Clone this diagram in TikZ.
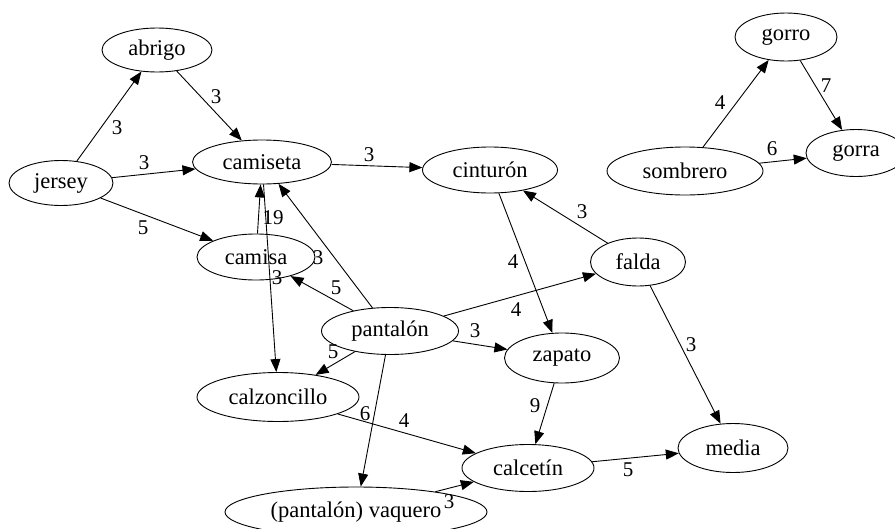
\documentclass[tikz,border=0pt]{standalone}
\usepackage{fontspec}
\setmainfont{Liberation Serif}
\usetikzlibrary{arrows.meta,shapes.geometric}
\begin{document}
\begin{tikzpicture}[x=1pt,y=-1pt,
  nd/.style={draw,ellipse,inner sep=0pt,line width=0.9pt,font=\fontsize{22.5}{22.5}\selectfont},
  ar/.style={-{Triangle[length=13pt,width=10pt]},line width=0.9pt},
  lb/.style={font=\fontsize{21}{21}\selectfont,inner sep=0pt}]
\useasboundingbox (0,0) rectangle (895,528);
\node[nd,minimum width=110,minimum height=44] (abrigo) at (157,50) {abrigo};
\node[nd,minimum width=104,minimum height=45] (jersey) at (61,183) {jersey};
\node[nd,minimum width=139,minimum height=44] (camiseta) at (262,162) {camiseta};
\node[nd,minimum width=118,minimum height=46] (camisa) at (256,257) {camisa};
\node[nd,minimum width=135,minimum height=46] (cinturon) at (490,170) {cinturón};
\node[nd,minimum width=102,minimum height=48] (gorro) at (786,37) {gorro};
\node[nd,minimum width=156,minimum height=48] (sombrero) at (685,171) {sombrero};
\node[nd,minimum width=100,minimum height=47] (gorra) at (856,153) {gorra};
\node[nd,minimum width=95,minimum height=48] (falda) at (638,262) {falda};
\node[nd,minimum width=137,minimum height=47] (pantalon) at (390,331) {pantalón};
\node[nd,minimum width=115,minimum height=50] (zapato) at (562,358) {zapato};
\node[nd,minimum width=162,minimum height=49] (calzoncillo) at (278,397) {calzoncillo};
\node[nd,minimum width=132,minimum height=47] (calcetin) at (528,468) {calcetín};
\node[nd,minimum width=110,minimum height=49] (media) at (733,448) {media};
\node[nd,minimum width=262,minimum height=50] (vaquero) at (356,512) {(pantalón) vaquero};

\draw[ar] (jersey) -- (abrigo);
\draw[ar] (abrigo) -- (camiseta);
\draw[ar] (jersey) -- (camiseta);
\draw[ar] (jersey) -- (camisa);
\draw[ar] (camiseta) -- (cinturon);
\draw[ar] (camisa) -- (camiseta);
\draw[ar] (camiseta) -- (calzoncillo);
\draw[ar] (pantalon) -- (camiseta);
\draw[ar] (pantalon) -- (camisa);
\draw[ar] (pantalon) -- (calzoncillo);
\draw[ar] (pantalon) -- (vaquero);
\draw[ar] (pantalon) -- (falda);
\draw[ar] (pantalon) -- (zapato);
\draw[ar] (cinturon) -- (zapato);
\draw[ar] (falda) -- (cinturon);
\draw[ar] (falda) -- (media);
\draw[ar] (zapato) -- (calcetin);
\draw[ar] (calzoncillo) -- (calcetin);
\draw[ar] (vaquero) -- (calcetin);
\draw[ar] (calcetin) -- (media);
\draw[ar] (sombrero) -- (gorro);
\draw[ar] (sombrero) -- (gorra);
\draw[ar] (gorro) -- (gorra);

\node[lb] (l1) at (117,128) {3};
\node[lb] (l2) at (216,97) {3};
\node[lb] (l3) at (144,163) {3};
\node[lb] (l4) at (143,228) {5};
\node[lb] (l5) at (369,155) {3};
\node[lb] (l6) at (273,218) {19};
\node[lb] (l7) at (277,278) {3};
\node[lb] (l8) at (318,258) {3};
\node[lb] (l9) at (336,288) {5};
\node[lb] (l10) at (333,352) {5};
\node[lb] (l11) at (365,414) {6};
\node[lb] (l12) at (516,310) {4};
\node[lb] (l13) at (475,331) {3};
\node[lb] (l14) at (513,262) {4};
\node[lb] (l15) at (582,212) {3};
\node[lb] (l16) at (691,345) {3};
\node[lb] (l17) at (535,406) {9};
\node[lb] (l18) at (404,421) {4};
\node[lb] (l19) at (449,502) {3};
\node[lb] (l20) at (628,470) {5};
\node[lb] (l21) at (720,103) {4};
\node[lb] (l22) at (772,149) {6};
\node[lb] (l23) at (826,86) {7};
\end{tikzpicture}
\end{document}
